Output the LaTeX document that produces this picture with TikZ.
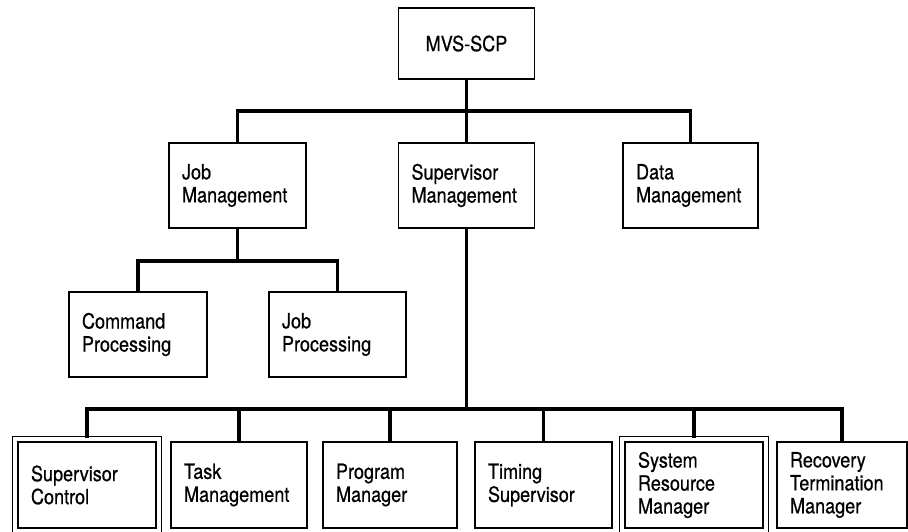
\documentclass[tikz,border=0pt]{standalone}
\usepackage{fontspec}
\setmainfont{TeX Gyre Heros}[FakeStretch=0.86,FakeBold=0.6]
\usetikzlibrary{fit}
\begin{document}
\begin{tikzpicture}[x=1pt,y=-1pt,
  box/.style={draw, line width=1.5pt, inner xsep=13pt, inner ysep=0pt, align=left,
    font=\fontsize{21}{23}\selectfont, minimum height=85pt},
  lowbox/.style={box, minimum height=86pt},
  frame/.style={draw, line width=1.4pt, inner sep=4.5pt},
  conn/.style={line width=3.6pt, line join=miter, line cap=rect}]
\useasboundingbox (0,0) rectangle (908,531);
\fill[white] (0,0) rectangle (908,531);

\node[box, align=center, text width=110pt, minimum height=71pt] (top) at (466.5,43.5) {MVS-SCP};

\node[box, text width=111pt] (jm) at (237.5,185.5) {Job\\Management};
\node[box, text width=110pt] (sm) at (466.5,185.5) {Supervisor\\Management};
\node[box, text width=109pt] (dm) at (690.5,185.5) {Data\\Management};

\node[box, text width=112pt] (cp) at (138,334.5) {Command\\Processing};
\node[box, text width=111pt] (jp) at (337.5,334.5) {Job\\Processing};

\node[lowbox, text width=112pt] (sc) at (87,485) {Supervisor\\Control};
\node[lowbox, text width=110pt] (tm) at (239,485) {Task\\Management};
\node[lowbox, text width=108pt] (pm) at (390,485) {Program\\Manager};
\node[lowbox, text width=111pt] (ts) at (543.5,485) {Timing\\Supervisor};
\node[lowbox, text width=112pt] (srm) at (694,485) {System\\Resource\\Manager};
\node[lowbox, text width=104pt] (rtm) at (842,485) {Recovery\\Termination\\Manager};

\node[frame, fit=(sc)] (scout) {};
\node[frame, fit=(srm)] (srmout) {};

\coordinate (b1) at (466.5,111);
\coordinate (b2) at (237.5,261);
\coordinate (b3) at (466.5,409);

\draw[conn] (top.south) -- (sm.north);
\draw[conn] (jm.north) |- (b1) -| (dm.north);

\draw[conn] (jm.south) -- (jm.south |- b2);
\draw[conn] (cp.north) |- (b2) -| (jp.north);

\draw[conn] (sm.south) -- (b3);
\draw[conn] (scout.north) |- (b3) -| (rtm.north);
\draw[conn] (tm.north) -- (tm.north |- b3);
\draw[conn] (pm.north) -- (pm.north |- b3);
\draw[conn] (ts.north) -- (ts.north |- b3);
\draw[conn] (srmout.north) -- (srmout.north |- b3);
\end{tikzpicture}
\end{document}
